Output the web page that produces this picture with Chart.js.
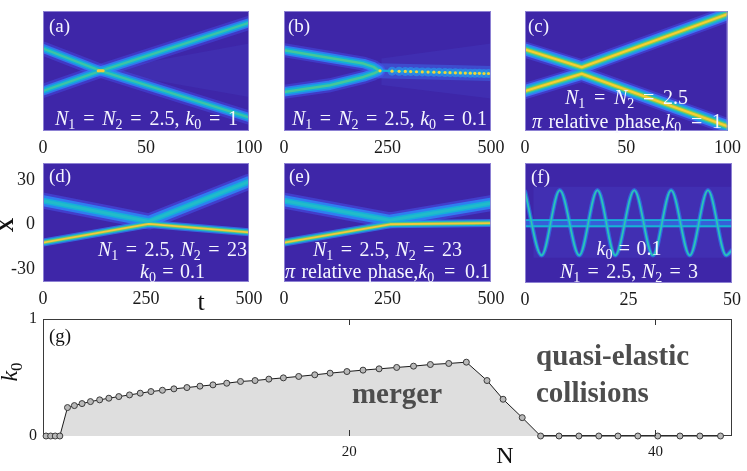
<!DOCTYPE html>
<html>
<head>
<meta charset="utf-8">
<script src="https://cdn.jsdelivr.net/npm/chart.js@4.4.1/dist/chart.umd.min.js"></script>
<style>
  html, body { margin: 0; padding: 0; background: #fff; }
  #wrap { position: relative; width: 747px; height: 471px; overflow: hidden; }
  #wrap canvas { position: absolute; left: 0; top: 0; }
</style>
</head>
<body>
<div id="wrap">
  <canvas id="ca" width="747" height="471"></canvas>
  <canvas id="cb" width="747" height="471"></canvas>
  <canvas id="cc" width="747" height="471"></canvas>
  <canvas id="cd" width="747" height="471"></canvas>
  <canvas id="ce" width="747" height="471"></canvas>
  <canvas id="cf" width="747" height="471"></canvas>
  <canvas id="cg" width="747" height="471"></canvas>
</div>
<script>
// soliton tracks: t along x, position X along y
// (a) N1 = N2 = 2.5, k0 = 1
const tA = [0, 28, 100];
const xA1 = [16.7, 1.6, 34.0];
const xA2 = [-12.0, 1.6, -29.9];
const tAfan = [28, 100];
const xAfanTop = [1.6, 20];
const xAfanBot = [1.6, -16];
const tAhit = [26.8, 29.2];
const xAhit = [1.6, 1.6];

// (b) N1 = N2 = 2.5, k0 = 0.1 (merger)
const tB = [0, 111, 192, 216, 228];
const xB1 = [15.5, 10.3, 6.5, 4.3, 2.0];
const xB2 = [-12.6, -8.1, -2.5, -0.2, 1.4];
const tBmerge = [228, 500];
const xBmerge = [1.7, -0.2];
const tBdots = [232, 261, 278, 293, 306, 320, 334, 348, 362, 375, 389, 401, 414, 426, 438, 450, 461, 472, 483, 494];
const xBdots = [1.6, 1.4, 1.3, 1.2, 1.1, 1.0, 0.9, 0.8, 0.7, 0.6, 0.5, 0.4, 0.3, 0.2, 0.1, 0.0, -0.1, -0.1, -0.2, -0.2];
const tBrad = [235, 500];
const xBradTop = [10, 20];
const xBradBot = [-8, -17];

// (c) pi relative phase, k0 = 1
const tC = [0, 28, 100];
const xC1 = [16.0, 4.0, 39.9];
const xC2 = [-12.0, -0.4, -35.8];

// (d) N1 = 2.5, N2 = 23, k0 = 0.1
const tD = [0, 257, 500];
const xD1 = [16.4, 2.2, 29.3];
const xD2 = [-12.2, 0.5, -5.2];

// (e) same, pi relative phase
const tE = [0, 256, 500];
const xE1 = [16.4, 3.0, 14.7];
const xE2 = [-12.2, 0.3, 1.1];

// (f) N1 = 2.5, N2 = 3, k0 = 0.1
const tF = [0, 4.0, 8.4, 13.1, 17.5, 21.8, 26.4, 30.9, 35.3, 39.8, 44.2, 48.6, 50];
const xF = [22.8, -20.3, 23.6, -20.3, 23.6, -20.3, 23.6, -20.3, 23.6, -20.3, 23.6, -20.3, -16.9];
const tFband = [0, 50];
const xFband1 = [3.4, 3.4];
const xFband2 = [-0.7, -0.7];
const xFbandMid = [1.35, 1.35];
const tFmesh = [2, 50];
const xFmeshTop = [26, 26];
const xFmeshBot = [-22, -22];

// axis ticks
const ticksA = [0, 50, 100];
const ticksB = [0, 250, 500];
const ticksC = [0, 50, 100];
const ticksD = [0, 250, 500];
const ticksE = [0, 250, 500];
const ticksF = [0, 25, 50];
const xTicksD = [-30, 0, 30];
const xRange = [-39, 42];

// (g) threshold k0 vs N
const nVals = [0.2, 0.5, 0.8, 1.1, 1.6, 2.05, 2.55, 3.1, 3.7, 4.3, 4.95, 5.65, 6.35, 7.05, 7.8, 8.55, 9.4,
  10.25, 11.1, 12.0, 12.9, 13.85, 14.75, 15.7, 16.7, 17.75, 18.75, 19.85, 20.9, 21.95, 23.1, 24.2, 25.3,
  26.5, 27.65, 29.0, 30.05, 31.3, 32.5, 33.7, 35.0, 36.3, 37.55, 38.85, 40.15, 41.6, 42.9, 44.25];
const kVals = [0, 0, 0, 0, 0.243, 0.26, 0.277, 0.294, 0.309, 0.323, 0.337, 0.351, 0.366, 0.38, 0.391, 0.403,
  0.414, 0.426, 0.437, 0.451, 0.466, 0.474, 0.486, 0.497, 0.509, 0.523, 0.537, 0.551, 0.563, 0.574, 0.586,
  0.597, 0.611, 0.62, 0.631, 0.474, 0.314, 0.157, 0, 0, 0, 0, 0, 0, 0, 0, 0, 0];
const nTicks = [20, 40];
const kTicks = [0, 1];

const W = 747, H = 471;
const SERIF = 'Liberation Serif';
const BG = '#3e26a8';
const FRAME = 'rgba(150,140,215,0.9)';
const WHITE = '#f6f6ff';

// glow layers, outermost first: [width, colour]
const L_A = [[14, 'rgba(70,85,240,0.4)'], [9, 'rgba(45,135,247,0.8)'], [5.5, '#13afd8'], [2.2, '#3cc4a6']];
const L_B = [[14, 'rgba(70,85,240,0.42)'], [9.5, 'rgba(45,135,247,0.85)'], [6, '#13afd8'], [2.5, '#45c79a']];
const L_C = [[16, 'rgba(70,85,240,0.45)'], [12, '#3a78f5'], [9, '#1aa6e0'], [6.5, '#30c3aa'], [4, '#a4c840'], [2, '#f5cf33']];
const L_BROAD = [[16, 'rgba(70,85,240,0.5)'], [11, 'rgba(45,135,247,0.85)'], [6, '#16aedb'], [3, '#22bcc8']];
const L_NARROW = [[8, 'rgba(45,135,247,0.7)'], [5.5, '#19b3d2'], [3.5, '#6cc56e'], [1.8, '#f3c93a']];
const L_F = [[4.5, 'rgba(45,135,247,0.55)'], [2.2, '#16b3d6'], [0.8, '#46c99a']];

function pts(ts, xs) { return ts.map((t, i) => ({ x: t, y: xs[i] })); }

function trail(ts, xs, layers, extra) {
  return layers.map((l, i) => Object.assign({
    data: pts(ts, xs), borderWidth: l[0], borderColor: l[1], pointRadius: 0,
    fill: false, tension: 0, clip: 0, order: layers.length - i,
    borderCapStyle: 'round', borderJoinStyle: 'round'
  }, extra || {}));
}

function band(ts, top, bot, color) {
  return [
    { data: pts(ts, top), borderWidth: 0, pointRadius: 0, fill: '+1', backgroundColor: color, clip: 0, order: 50 },
    { data: pts(ts, bot), borderWidth: 0, pointRadius: 0, fill: false, clip: 0, order: 50 }
  ];
}

// text with italic letters + subscripts: "N_1" -> italic N, subscript 1
function parseMath(s) {
  const out = [];
  let buf = '';
  for (let i = 0; i < s.length; i++) {
    const ch = s[i];
    if (s[i + 1] === '_') {
      if (buf) out.push({ t: buf });
      buf = '';
      out.push({ t: ch, it: true });
      out.push({ t: s[i + 2], sub: true });
      i += 2;
    } else if (ch === 'π') {
      if (buf) out.push({ t: buf });
      buf = '';
      out.push({ t: ch, it: true });
    } else {
      buf += ch;
    }
  }
  if (buf) out.push({ t: buf });
  return out;
}

// spaces next to "=" stretch more than word spaces, like TeX
function spaceWeight(str, j) {
  return (str[j - 1] === '=' || str[j + 1] === '=') ? 1 : 0.3;
}

function drawText(ctx, o) {
  const parts = parseMath(o.s);
  const fontOf = p => (p.it ? 'italic ' : '') + (o.bold ? 'bold ' : '') +
    (p.sub ? Math.round(o.size * 0.7) : o.size) + 'px "' + SERIF + '"';
  ctx.save();
  let w = 0, weight = 0;
  parts.forEach(p => {
    ctx.font = fontOf(p);
    p.w = ctx.measureText(p.t).width;
    w += p.w;
    if (!p.sub) for (let j = 0; j < p.t.length; j++) if (p.t[j] === ' ') weight += spaceWeight(p.t, j);
  });
  const extra = (o.w && weight) ? (o.w - w) / weight : 0;
  const total = w + extra * weight;
  ctx.translate(o.x, o.y);
  if (o.rot) ctx.rotate(o.rot);
  let x = o.align === 'left' ? 0 : -total / 2;
  ctx.fillStyle = o.color;
  ctx.textBaseline = 'alphabetic';
  ctx.textAlign = 'left';
  parts.forEach(p => {
    ctx.font = fontOf(p);
    const dy = p.sub ? o.size * 0.22 : 0;
    if (extra && !p.sub && p.t.indexOf(' ') >= 0) {
      for (let j = 0; j < p.t.length; j++) {
        const c = p.t[j];
        ctx.fillText(c, x, dy);
        x += ctx.measureText(c).width + (c === ' ' ? extra * spaceWeight(p.t, j) : 0);
      }
    } else {
      ctx.fillText(p.t, x, dy);
      x += p.w;
    }
  });
  ctx.restore();
}

const PANEL = {
  ca: { bg: BG, frame: FRAME, texts: [
    { s: '(a)', x: 49, y: 31.5, size: 19, color: WHITE, align: 'left' },
    { s: 'N_1 = N_2 = 2.5, k_0 = 1', x: 146.5, y: 125, size: 20, color: WHITE, w: 183 }
  ] },
  cb: { bg: BG, frame: FRAME, texts: [
    { s: '(b)', x: 288, y: 31.5, size: 19, color: WHITE, align: 'left' },
    { s: 'N_1 = N_2 = 2.5, k_0 = 0.1', x: 389.5, y: 125, size: 20, color: WHITE, w: 195 }
  ] },
  cc: { bg: BG, frame: FRAME, texts: [
    { s: '(c)', x: 528, y: 31.5, size: 19, color: WHITE, align: 'left' },
    { s: 'N_1 = N_2 = 2.5', x: 626.5, y: 103.5, size: 20, color: WHITE, w: 123 },
    { s: 'π relative phase,k_0 = 1', x: 627, y: 127.5, size: 20, color: WHITE, w: 190 }
  ] },
  cd: { bg: BG, frame: FRAME, texts: [
    { s: '(d)', x: 49, y: 181.5, size: 19, color: WHITE, align: 'left' },
    { s: 'N_1 = 2.5, N_2 = 23', x: 172.5, y: 255.5, size: 20, color: WHITE, w: 149 },
    { s: 'k_0 = 0.1', x: 172.5, y: 278, size: 20, color: WHITE, w: 65 },
    { s: 'X', x: 13, y: 225, size: 20, color: '#111', bold: true, rot: -Math.PI / 2 },
    { s: 't', x: 201, y: 310, size: 26, color: '#111' }
  ] },
  ce: { bg: BG, frame: FRAME, texts: [
    { s: '(e)', x: 289, y: 181.5, size: 19, color: WHITE, align: 'left' },
    { s: 'N_1 = 2.5, N_2 = 23', x: 387.5, y: 255.5, size: 20, color: WHITE, w: 149 },
    { s: 'π relative phase,k_0 = 0.1', x: 387.5, y: 278, size: 20, color: WHITE, w: 205 }
  ] },
  cf: { bg: BG, frame: FRAME, texts: [
    { s: '(f)', x: 531, y: 183, size: 19, color: WHITE, align: 'left' },
    { s: 'k_0 = 0.1', x: 629, y: 255, size: 20, color: WHITE, w: 65 },
    { s: 'N_1 = 2.5, N_2 = 3', x: 629, y: 278, size: 20, color: WHITE, w: 138 }
  ] },
  cg: { frame: '#3a3a3a', frameUnder: true, inTicks: nTicks, texts: [
    { s: '(g)', x: 49, y: 341.5, size: 19, color: '#111', align: 'left' },
    { s: 'merger', x: 397, y: 403, size: 29, bold: true, color: '#4d4d4d' },
    { s: 'quasi-elastic', x: 536, y: 365, size: 29, bold: true, color: '#4d4d4d', align: 'left' },
    { s: 'collisions', x: 536, y: 402, size: 29, bold: true, color: '#4d4d4d', align: 'left' },
    { s: 'N', x: 505, y: 463, size: 24, color: '#111' },
    { s: 'k_0', x: 17, y: 372, size: 24, color: '#111', rot: -Math.PI / 2 }
  ] }
};

function strokeFrame(c, a, color) {
  c.save();
  c.strokeStyle = color;
  c.lineWidth = 1;
  c.strokeRect(a.left + 0.5, a.top + 0.5, a.width - 1, a.height - 1);
  c.restore();
}

Chart.register({
  id: 'panel',
  beforeDatasetsDraw(chart) {
    const p = PANEL[chart.canvas.id];
    if (!p) return;
    const a = chart.chartArea, c = chart.ctx;
    if (p.bg) {
      c.save();
      c.fillStyle = p.bg;
      c.fillRect(a.left, a.top, a.width, a.height);
      c.restore();
    }
    if (p.frame && p.frameUnder) strokeFrame(c, a, p.frame);
  },
  afterDatasetsDraw(chart) {
    const p = PANEL[chart.canvas.id];
    if (!p) return;
    const a = chart.chartArea, c = chart.ctx;
    if (p.frame && !p.frameUnder) strokeFrame(c, a, p.frame);
    if (p.inTicks) {
      c.save();
      c.strokeStyle = '#333';
      c.lineWidth = 1;
      p.inTicks.forEach(v => {
        const x = Math.round(chart.scales.x.getPixelForValue(v)) + 0.5;
        c.beginPath();
        c.moveTo(x, a.top); c.lineTo(x, a.top + 6);
        c.moveTo(x, a.bottom); c.lineTo(x, a.bottom - 6);
        c.stroke();
      });
      c.restore();
    }
    p.texts.forEach(t => drawText(c, t));
  }
});

function heat(id, rect, ticks, datasets, yTicks) {
  const [L, T, R, B] = rect;
  const XH = 34, YW = yTicks ? 40 : 0;
  return new Chart(document.getElementById(id), {
    type: 'line',
    data: { datasets },
    options: {
      responsive: false, animation: false, events: [],
      layout: { padding: { left: L - YW, top: T, right: W - R, bottom: H - B - XH } },
      plugins: { legend: { display: false }, tooltip: { enabled: false } },
      scales: {
        x: {
          type: 'linear', min: ticks[0], max: ticks[ticks.length - 1],
          afterBuildTicks: s => { s.ticks = ticks.map(v => ({ value: v })); },
          afterFit: s => { s.height = XH; },
          grid: { display: false, drawTicks: false }, border: { display: false },
          ticks: { font: { family: SERIF, size: 18 }, color: '#1a1a1a', padding: 6, maxRotation: 0, autoSkip: false }
        },
        y: {
          type: 'linear', min: xRange[0], max: xRange[1], display: !!yTicks,
          afterBuildTicks: s => { if (yTicks) s.ticks = yTicks.map(v => ({ value: v })); },
          afterFit: s => { s.width = YW; },
          grid: { display: false, drawTicks: false }, border: { display: false },
          ticks: { font: { family: SERIF, size: 18 }, color: '#1a1a1a', padding: 8 }
        }
      }
    }
  });
}

heat('ca', [43, 11, 249, 131], ticksA, [
  ...band(tAfan, xAfanTop, xAfanBot, 'rgba(80,100,235,0.13)'),
  ...trail(tA, xA1, L_A),
  ...trail(tA, xA2, L_A),
  ...trail(tAhit, xAhit, [[3, '#f3c93a']], { order: 0 })
]);

heat('cb', [284, 11, 491, 131], ticksB, [
  ...band(tBrad, xBradTop, xBradBot, 'rgba(80,100,235,0.14)'),
  ...trail(tB, xB1, L_B),
  ...trail(tB, xB2, L_B),
  ...trail(tBmerge, xBmerge, [[15, 'rgba(60,110,240,0.45)']], { order: 7 }),
  { data: pts(tBdots, xBdots), showLine: false, pointRadius: 4.5, pointBorderWidth: 0,
    pointBackgroundColor: 'rgba(40,150,235,0.7)', clip: 0, order: 6 },
  ...trail(tBmerge, xBmerge, [[2.2, '#14b0d8']], { order: 2 }),
  { data: pts(tBdots, xBdots), showLine: false, pointRadius: 1.6, pointBorderWidth: 0,
    pointBackgroundColor: '#f2d23a', clip: 0, order: 0 }
]);

heat('cc', [525, 11, 732, 131], ticksC, [
  ...trail(tC, xC1, L_C),
  ...trail(tC, xC2, L_C)
]);

heat('cd', [43, 163, 249, 282], ticksD, [
  ...trail(tD, xD2, L_NARROW),
  ...trail(tD, xD1, L_BROAD)
], xTicksD);

heat('ce', [284, 163, 491, 282], ticksE, [
  ...trail(tE, xE2, L_NARROW),
  ...trail(tE, xE1, L_BROAD)
]);

heat('cf', [525, 163, 732, 283], ticksF, [
  ...band(tFmesh, xFmeshTop, xFmeshBot, 'rgba(85,105,240,0.14)'),
  ...trail(tFband, xFbandMid, [[8, 'rgba(45,135,247,0.55)']], { order: 8 }),
  ...trail(tFband, xFband1, [[1.8, '#16b3d6']], { order: 2 }),
  ...trail(tFband, xFband2, [[1.8, '#16b3d6']], { order: 2 }),
  ...trail(tF, xF, L_F, { cubicInterpolationMode: 'monotone' })
]);

// (g) merger threshold
new Chart(document.getElementById('cg'), {
  type: 'line',
  data: {
    datasets: [{
      data: pts(nVals, kVals),
      borderColor: '#1a1a1a', borderWidth: 1, backgroundColor: '#dedede', fill: 'origin',
      pointRadius: 3, pointBackgroundColor: '#b9b9b9', pointBorderColor: '#3a3a3a', pointBorderWidth: 1,
      tension: 0, clip: 8
    }]
  },
  options: {
    responsive: false, animation: false, events: [],
    layout: { padding: { left: 3, top: 319, right: W - 732, bottom: H - 436 - 30 } },
    plugins: { legend: { display: false }, tooltip: { enabled: false } },
    scales: {
      x: {
        type: 'linear', min: 0, max: 45,
        afterBuildTicks: s => { s.ticks = nTicks.map(v => ({ value: v })); },
        afterFit: s => { s.height = 30; },
        grid: { display: false, drawTicks: false }, border: { display: false },
        ticks: { font: { family: SERIF, size: 15 }, color: '#1a1a1a', padding: 7, maxRotation: 0 }
      },
      y: {
        type: 'linear', min: 0, max: 1,
        afterBuildTicks: s => { s.ticks = kTicks.map(v => ({ value: v })); },
        afterFit: s => { s.width = 40; },
        grid: { display: false, drawTicks: false }, border: { display: false },
        ticks: { font: { family: SERIF, size: 16 }, color: '#1a1a1a', padding: 6 }
      }
    }
  }
});
</script>
</body>
</html>
